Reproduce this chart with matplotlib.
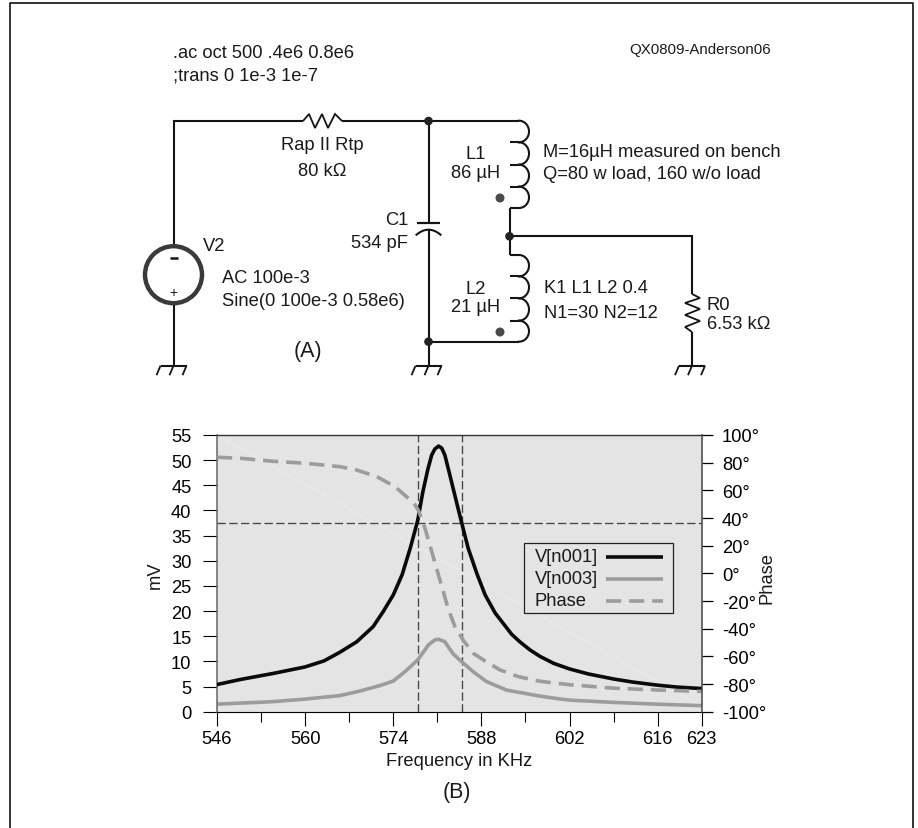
import numpy as np
import matplotlib
matplotlib.use('Agg')
import matplotlib.pyplot as plt
from matplotlib.patches import Circle, Rectangle

plt.rcParams['font.family'] = ['Liberation Sans', 'DejaVu Sans']

# Curves (kHz, mV, degrees)
freq_v1 = [546, 549.7, 554.9, 560, 563, 565.5, 568.2, 570.8, 572.4, 574, 575.4, 576.7, 577.9, 578.7, 579.5,
           580.1, 580.6, 581.2, 581.7, 582.2, 583, 584.1, 584.9, 585.9, 587.3, 588.6, 590.2, 592.8, 594.1,
           595.7, 597.3, 599.5, 602, 605, 609, 612, 615.8, 619, 623]
v_n001 = [5.4, 6.4, 7.6, 8.9, 10.1, 11.8, 13.9, 16.9, 19.9, 23.2, 27.2, 32.5, 38.1, 43.7, 48.2,
          51, 52.2, 52.8, 52.4, 51, 47, 41.4, 37.4, 32.5, 27.4, 23.2, 19.6, 15.4, 13.9,
          12.3, 11, 9.6, 8.5, 7.5, 6.5, 5.9, 5.3, 4.9, 4.6]
freq_v3 = [546, 554.9, 560, 565.5, 568.7, 571.9, 574, 575.9, 577.9, 579.6, 580.6, 581.2, 582.2, 583.5,
           584.9, 586.7, 588.8, 592, 595.7, 597.3, 599.5, 602, 609, 615.8, 623]
v_n003 = [1.5, 2.0, 2.5, 3.2, 4.1, 5.2, 6.1, 8, 10.3, 13.3, 14.25, 14.4, 13.9, 11.5,
          9.9, 7.95, 6, 4.3, 3.46, 3.1, 2.7, 2.3, 1.85, 1.5, 1.2]
freq_ph = [546, 549.7, 554.9, 560, 565.5, 568.2, 571.4, 574.3, 576.4, 577.3, 578, 578.8, 579.4, 580.6, 581.4,
           582, 582.7, 583.8, 585.1, 586.7, 588.6, 591, 593.9, 597.3, 602, 609, 615.8, 623]
phase = [83.9, 83.2, 81, 79.6, 77.1, 74.7, 69.9, 62.6, 54.2, 50.5, 45.5, 36, 27, 8, -4.5,
         -14, -25.3, -38.5, -48.2, -57.8, -63.4, -69.9, -74.7, -78, -80.5, -83, -84.3, -85.3]

freq_major = [546, 560, 574, 588, 602, 616, 623]
freq_minor = [553, 567, 581, 595, 609]
mv_ticks = list(range(0, 60, 5))
deg_ticks = list(range(-100, 120, 20))
marker_freqs = [577.9, 584.85]
marker_mv = 37.5

BLACK = '#0a0a0a'
GREY = '#9c9c9c'
FS = 13.2
LW = 2.6

fig = plt.figure(figsize=(9.18, 8.29), dpi=100)

# Plot area
ax = fig.add_axes([217 / 918, 1 - 712.7 / 829, 484.7 / 918, 276.7 / 829])
ax.set_facecolor('#e4e4e4')
ax.set_xlim(546, 623)
ax.set_ylim(0, 55)
ax.plot([0, 1], [1, 0.02], transform=ax.transAxes, color='#eeeeee', lw=0.5)

for f in marker_freqs:
    ax.axvline(f, color='#444444', lw=0.95, dashes=(6.3, 2.6))
ax.axhline(marker_mv, color='#444444', lw=0.95, dashes=(6.3, 2.6))

ax.plot(freq_v3, v_n003, color=GREY, lw=LW)
ax.plot(freq_v1, v_n001, color=BLACK, lw=LW, zorder=4)

ax.set_xticks(freq_major)
ax.set_xticks(freq_minor, minor=True)
ax.set_yticks(mv_ticks)
ax.tick_params(axis='x', which='major', length=10, width=0.8, labelsize=FS, pad=3.5)
ax.tick_params(axis='x', which='minor', length=7, width=0.8)
ax.tick_params(axis='y', length=10.4, width=0.8, labelsize=FS, pad=8)
ax.spines['left'].set_color('#666666')
ax.spines['left'].set_linewidth(1.1)
ax.spines['right'].set_visible(False)
ax.spines['top'].set_linewidth(1.0)
ax.spines['top'].set_color('#333333')
ax.spines['bottom'].set_linewidth(0.8)

ax2 = ax.twinx()
ax2.set_ylim(-100, 100)
ax2.plot(freq_ph, phase, color=GREY, lw=LW, dashes=(4.2, 2.2))
ax2.set_yticks(deg_ticks)
ax2.set_yticklabels([f'{d}°' for d in deg_ticks])
ax2.tick_params(axis='y', length=7.7, width=0.9, labelsize=FS, pad=7)
for s in ['left', 'top', 'bottom']:
    ax2.spines[s].set_visible(False)
ax2.spines['right'].set_color('#444444')
ax2.spines['right'].set_linewidth(1.1)

# Schematic and all free text go on an overlay in pixel coordinates
ov = fig.add_axes([0, 0, 1, 1], zorder=10)
ov.set_xlim(0, 918)
ov.set_ylim(829, 0)
ov.axis('off')
ov.patch.set_alpha(0)


def wire(xs, ys, lw=1.5, color='#141414'):
    ov.plot(xs, ys, color=color, lw=lw, solid_capstyle='butt', solid_joinstyle='miter')


def label(x, y, s, ha='left', size=FS, **kw):
    ov.text(x, y + 0.5, s, ha=ha, va='center', fontsize=size, color='#1a1a1a', **kw)


def ground(x, y=366.7):
    wire([x - 13, x + 13], [y, y])
    for dx in (-13, 0, 13):
        wire([x + dx, x + dx - 4], [y, y + 9.5], lw=1.3)


def node(x, y):
    ov.add_patch(Circle((x, y), 3.6, color='#222222', zorder=5))


def coil(ytop, ybots, x=510):
    # row of half ellipses with short stubs back to the wire side
    y0 = ytop
    wire([x, x + 9], [y0, y0])
    for y1 in ybots:
        t = np.linspace(-np.pi / 2, np.pi / 2, 30)
        yc = (y0 + y1) / 2
        ov.plot(x + 9 + 10 * np.cos(t), yc + (y1 - y0) / 2 * np.sin(t), color='#141414', lw=1.5)
        wire([x, x + 9], [y1, y1])
        y0 = y1


# outer frame
ov.plot([10, 10, 913, 913], [829, 4, 4, 829], color='#111111', lw=1.2)

# source branch
wire([173.5, 173.5, 303], [245, 122, 122])
wire([173.5, 173.5], [306, 366.7])
ov.add_patch(Circle((173.5, 275.7), 28.5, fill=False, ec='#3a3a3a', lw=3.2))
wire([170, 178], [259, 259], lw=1.8)
label(173.5, 292, '+', ha='center', size=10)
ground(173.5)

# series resistor
rx = [303, 309, 315, 322, 328, 335, 342]
ry = [122, 115, 129, 115, 129, 115, 122]
wire(rx, ry, lw=1.3)
wire([342, 510], [122, 122])
node(428.5, 122)

# C1
wire([428.5, 428.5], [122, 224])
wire([417, 440], [224, 224], lw=1.6)
t = np.linspace(-1, 1, 20)
ov.plot(428.5 + 12 * t, 230.7 + 5 * t ** 2, color='#141414', lw=1.5)
wire([428.5, 428.5], [231, 366.7])
node(428.5, 342.7)
ground(428.5)
wire([428.5, 510], [342.7, 342.7])

# L1, L2 and tap
coil(121.7, [143.3, 165.7, 187.7, 209])
coil(256, [277.3, 299.3, 321.7, 342.7])
wire([510, 510], [209, 256])
node(509.5, 237.3)
ov.add_patch(Circle((500, 199), 3.8, color='#4a4a4a', zorder=5))
ov.add_patch(Circle((500, 333), 3.8, color='#4a4a4a', zorder=5))

# load
wire([509.5, 692, 692], [237.3, 237.3, 295])
zx = [692, 700, 685, 700, 685, 700, 685, 692]
zy = [295, 299, 304, 310, 316, 322, 328, 333]
wire(zx, zy, lw=1.3)
wire([692, 692], [333, 366.7])
ground(692)

# schematic text
label(173, 53, '.ac oct 500 .4e6 0.8e6')
label(173, 75.7, ';trans 0 1e-3 1e-7')
label(629, 49, 'QX0809-Anderson06', size=10.8)
label(322, 145, 'Rap II Rtp', ha='center')
label(322, 170.7, '80 kΩ', ha='center')
label(476, 154, 'L1', ha='center')
label(476, 173, '86 µH', ha='center')
label(408, 220, 'C1', ha='right')
label(408, 243, '534 pF', ha='right')
label(203, 245.7, 'V2')
label(222, 278, 'AC 100e-3')
label(222, 301, 'Sine(0 100e-3 0.58e6)')
label(476, 288.7, 'L2', ha='center')
label(476, 307, '21 µH', ha='center')
label(308, 351, '(A)', ha='center', size=15.5)
label(543, 151.7, 'M=16µH measured on bench')
label(543, 174, 'Q=80 w load, 160 w/o load')
label(544, 288, 'K1 L1 L2 0.4')
label(544, 312.7, 'N1=30 N2=12')
label(706.7, 305, 'R0')
label(706.7, 324, '6.53 kΩ')

# axis titles
label(155.7, 575, 'mV', ha='center', rotation=90)
label(767, 577, 'Phase', ha='center', rotation=90)
label(459, 760.5, 'Frequency in KHz', ha='center')
label(457, 791.7, '(B)', ha='center', size=15.5)

# legend, text first then line sample
ov.add_patch(Rectangle((524, 544.3), 149.3, 69.7, fc='#e4e4e4', ec='#222222', lw=0.9, zorder=6))
leg_names = ['V[n001]', 'V[n003]', 'Phase']
leg_y = [557.7, 580, 601.7]
leg_col = [BLACK, GREY, GREY]
leg_dash = [None, None, (4.2, 2.2)]
for name, y, c, d in zip(leg_names, leg_y, leg_col, leg_dash):
    ov.text(535, y, name, ha='left', va='center', fontsize=FS, color='#1a1a1a', zorder=7)
    line, = ov.plot([605.7, 663], [y, y], color=c, lw=LW, solid_capstyle='butt', zorder=7)
    if d:
        line.set_dashes(d)

fig.savefig('out.png', dpi=100)
